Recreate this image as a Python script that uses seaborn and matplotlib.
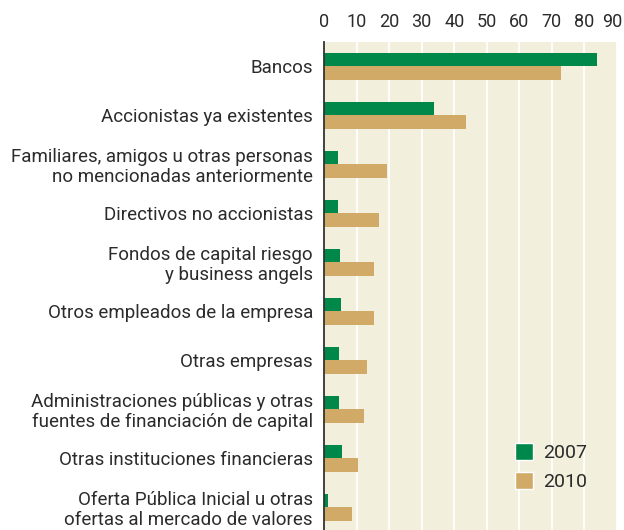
import pandas as pd
import matplotlib.pyplot as plt
import matplotlib.transforms as mtransforms
import seaborn as sns
from matplotlib.ticker import FixedLocator
from matplotlib.patches import Patch

# Categories and values
categories = [
    "Bancos",
    "Accionistas ya existentes",
    "Familiares, amigos u otras personas\nno mencionadas anteriormente",
    "Directivos no accionistas",
    "Fondos de capital riesgo\ny business angels",
    "Otros empleados de la empresa",
    "Otras empresas",
    "Administraciones públicas y otras\nfuentes de financiación de capital",
    "Otras instituciones financieras",
    "Oferta Pública Inicial u otras\nofertas al mercado de valores",
]
values_2007 = [84, 33.7, 4.4, 4.4, 5.0, 5.3, 4.7, 4.7, 5.6, 1.3]
values_2010 = [72.8, 43.5, 19.5, 17.0, 15.5, 15.5, 13.3, 12.4, 10.3, 8.7]
years = ["2007", "2010"]
x_ticks = [0, 10, 20, 30, 40, 50, 60, 70, 80, 90]

df = pd.DataFrame({
    "categoria": categories * 2,
    "valor": values_2007 + values_2010,
    "año": [years[0]] * len(categories) + [years[1]] * len(categories),
})

green = "#00874A"
tan = "#D2AA68"
bg = "#F2F0DC"
txt = "#2b2b2b"

sns.set_style("white")
plt.rcParams['font.family'] = ['Roboto', 'DejaVu Sans']

fig = plt.figure(figsize=(6.24, 5.30), dpi=100)
ax = fig.add_axes([324 / 624, -2 / 530, 293 / 624, 490 / 530])
ax.set_facecolor(bg)

sns.barplot(data=df, y="categoria", x="valor", hue="año", orient="h",
            palette=[green, tan], width=0.57, saturation=1, linewidth=0,
            ax=ax, legend=False)

ax.set_xlim(0, 90)
ax.set_ylim(len(categories) - 0.5, -0.5)
ax.xaxis.tick_top()
ax.set_xticks(x_ticks)
ax.tick_params(axis="x", length=0, pad=8, labelsize=13, labelcolor=txt)
ax.grid(axis="x", color="white", linewidth=1.3)
ax.set_axisbelow(True)
# nudge the last top label so it stays inside the figure
last = ax.get_xticklabels()[-1]
last.set_transform(last.get_transform() +
                   mtransforms.ScaledTranslation(-5 / 100, 0, fig.dpi_scale_trans))

ax.tick_params(axis="y", which="major", length=0, pad=8, labelsize=13.5,
               labelcolor=txt)
ax.yaxis.set_minor_locator(FixedLocator([i + 0.5 for i in range(-1, len(categories))]))
ax.tick_params(axis="y", which="minor", length=4, width=1.2, color="#888888")
for lab in ax.get_yticklabels():
    lab.set_horizontalalignment("right")
    lab.set_multialignment("right")
    lab.set_linespacing(1.12)

ax.set_xlabel("")
ax.set_ylabel("")
for s in ["top", "right", "bottom"]:
    ax.spines[s].set_visible(False)
ax.spines["left"].set_color("#333333")
ax.spines["left"].set_linewidth(1.3)

handles = [Patch(facecolor=green, label=years[0]), Patch(facecolor=tan, label=years[1])]
ax.legend(handles=handles, loc="upper left", bbox_to_anchor=(515 / 624, 1 - 443 / 530),
          bbox_transform=fig.transFigure, borderpad=0, borderaxespad=0,
          frameon=False, fontsize=14, handlelength=0.95, handleheight=1.0,
          handletextpad=0.5, labelspacing=0.5, labelcolor=txt)

fig.savefig("out.png", dpi=100)
